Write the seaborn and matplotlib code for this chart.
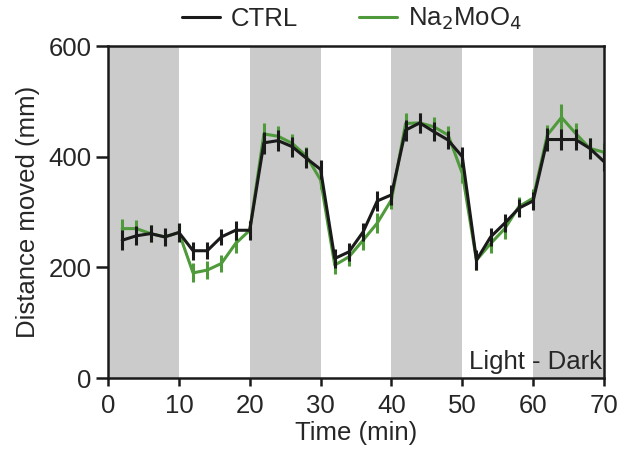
import numpy as np
import pandas as pd
import matplotlib
matplotlib.use("Agg")
import matplotlib.pyplot as plt
import seaborn as sns

# time points (min)
time = [2, 4, 6, 8, 10, 12, 14, 16, 18, 20, 22, 24, 26, 28, 30, 32, 34, 36,
        38, 40, 42, 44, 46, 48, 50, 52, 54, 56, 58, 60, 62, 64, 66, 68, 70]

ctrl_mean = [249, 257, 261, 255, 263, 230, 230, 255, 267, 267, 425, 429, 418, 397, 377,
             216, 228, 264, 320, 331, 448, 461, 445, 430, 400,
             213, 255, 280, 307, 320, 431, 431, 431, 415, 391]
ctrl_sem = [18, 17, 16, 16, 17, 16, 15, 15, 17, 17, 20, 19, 18, 18, 17,
            17, 16, 17, 18, 18, 19, 18, 17, 17, 18,
            18, 17, 17, 16, 16, 20, 19, 19, 19, 17]

na_mean = [270, 270, 261, 255, 263, 190, 195, 207, 243, 267, 441, 437, 424, 401, 358,
           204, 219, 249, 280, 322, 460, 461, 454, 439, 370,
           213, 243, 270, 310, 325, 439, 471, 442, 415, 408]
na_sem = [17, 16, 15, 15, 16, 17, 16, 16, 17, 16, 19, 18, 17, 17, 17,
          16, 16, 17, 18, 17, 19, 18, 17, 17, 17,
          17, 17, 18, 17, 16, 18, 24, 19, 18, 16]

dark_starts = [0, 20, 40, 60]

df = pd.DataFrame({
    "time": time * 2,
    "dist": ctrl_mean + na_mean,
    "sem": ctrl_sem + na_sem,
    "group": ["CTRL"] * len(time) + ["Na2MoO4"] * len(time),
})

sns.set_style("ticks")
plt.rcParams["font.family"] = ["Liberation Sans", "DejaVu Sans"]

colors = {"CTRL": "#1a1a1a", "Na2MoO4": "#4f9a3a"}
fs = 18.5

fig = plt.figure(figsize=(6.23, 4.55), dpi=100)
ax = fig.add_axes([0.1734, 0.1692, 0.7961, 0.7297])

for s in dark_starts:
    ax.axvspan(s, s + 10, color="#cbcbcb", lw=0, zorder=0)

for grp, z in [("Na2MoO4", 2), ("CTRL", 3)]:
    d = df[df["group"] == grp]
    sns.lineplot(data=d, x="time", y="dist", color=colors[grp], lw=2.2,
                 errorbar=None, ax=ax, zorder=z, legend=False)
    ax.vlines(d["time"], d["dist"] - d["sem"], d["dist"] + d["sem"],
              color=colors[grp], lw=2.2, zorder=z)

ax.set_xlim(0, 70)
ax.set_ylim(0, 600)
ax.set_xticks(range(0, 71, 10))
ax.set_yticks([0, 200, 400, 600])
ax.set_xlabel("Time (min)", fontsize=fs, labelpad=2, color="#262626")
ax.set_ylabel("Distance moved (mm)", fontsize=fs, labelpad=6, color="#262626")
ax.tick_params(labelsize=fs, width=1.8, color="#1a1a1a", labelcolor="#262626")
ax.tick_params(axis="x", length=5.5, pad=6)
ax.tick_params(axis="y", length=9, pad=3)
plt.setp(ax.spines.values(), linewidth=1.8, color="#1a1a1a")

ax.text(0.995, 0.027, "Light - Dark", transform=ax.transAxes, ha="right", va="baseline",
        fontsize=fs, color="#262626")

handles = [plt.Line2D([], [], color=colors["CTRL"], lw=2.2),
           plt.Line2D([], [], color=colors["Na2MoO4"], lw=2.2)]
fig.legend(handles, ["CTRL", "Na$_2$MoO$_4$"], loc="center left", ncol=2,
           bbox_to_anchor=(182 / 623, 1 - 19 / 455), frameon=False, fontsize=fs,
           handlelength=1.48, columnspacing=2.37, handletextpad=0.43,
           labelcolor="#262626", borderpad=0, borderaxespad=0)

fig.savefig("out.png", dpi=100)
